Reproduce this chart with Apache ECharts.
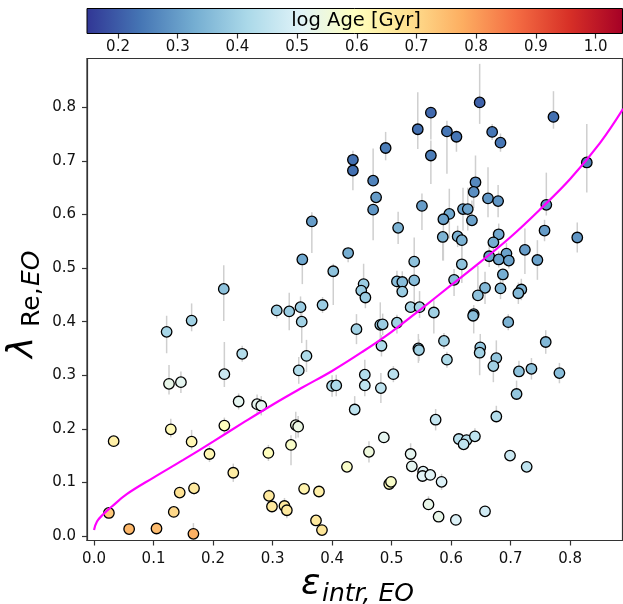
<!DOCTYPE html>
<html><head><meta charset="utf-8">
<script src="https://cdn.jsdelivr.net/npm/echarts@6/dist/echarts.min.js"></script>
<style>html,body{margin:0;padding:0;background:#fff}#c{width:623px;height:604px}</style>
</head><body><div id="c"></div>
<script>
// ---- data ----
const eps = [
0.648,0.566,0.772,0.544,0.593,0.609,0.669,0.683,0.490,0.435,0.435,0.566,0.469,0.474,0.469,0.828,0.641,0.638,0.662,0.679,
0.551,0.760,0.620,0.628,0.597,0.587,0.635,0.511,0.757,0.812,0.680,0.586,0.611,0.618,0.671,0.366,0.350,0.427,0.402,0.218,
0.724,0.693,0.664,0.680,0.697,0.745,0.538,0.618,0.687,0.509,0.518,0.538,0.605,0.453,0.449,0.518,0.456,0.657,0.683,0.718,
0.713,0.645,0.532,0.547,
0.571,0.638,0.637,0.696,0.441,0.481,0.485,0.509,0.483,0.545,0.546,0.588,0.593,0.649,0.648,0.676,0.671,0.759,0.714,0.735,
0.782,0.710,0.455,0.503,0.455,0.482,0.400,0.407,0.438,0.574,0.676,0.487,0.613,0.626,0.621,0.640,0.462,0.532,0.534,0.553,
0.552,0.565,0.584,0.425,0.496,0.499,0.699,0.727,0.562,0.579,0.608,0.657,
0.307,0.328,0.347,0.384,0.349,0.164,0.122,0.249,0.357,0.344,0.219,0.126,0.146,0.243,0.274,0.281,0.339,0.343,0.129,0.219,
0.033,0.164,0.331,0.194,0.293,0.234,0.144,0.168,0.134,0.025,0.059,0.105,0.167,0.294,0.299,0.320,0.324,0.353,0.378,0.373,
0.383
];
const lam = [
0.809,0.790,0.782,0.759,0.755,0.745,0.754,0.734,0.724,0.702,0.682,0.710,0.663,0.632,0.609,0.697,0.660,0.642,0.630,0.625,
0.616,0.618,0.610,0.610,0.601,0.591,0.589,0.575,0.570,0.557,0.563,0.558,0.559,0.552,0.548,0.587,0.516,0.528,0.494,0.461,
0.534,0.527,0.522,0.516,0.514,0.515,0.512,0.507,0.488,0.475,0.474,0.477,0.478,0.470,0.458,0.456,0.445,0.463,0.462,0.460,
0.453,0.449,0.427,0.427,
0.417,0.414,0.411,0.399,0.386,0.394,0.395,0.398,0.355,0.350,0.347,0.364,0.329,0.352,0.342,0.332,0.317,0.362,0.307,0.312,
0.304,0.265,0.301,0.302,0.281,0.276,0.280,0.281,0.236,0.217,0.223,0.184,0.181,0.179,0.171,0.186,0.157,0.153,0.130,0.120,
0.112,0.114,0.101,0.129,0.097,0.101,0.150,0.129,0.059,0.036,0.030,0.046,
0.421,0.419,0.427,0.431,0.400,0.402,0.381,0.340,0.336,0.309,0.302,0.284,0.287,0.251,0.246,0.243,0.207,0.204,0.199,0.206,
0.177,0.176,0.170,0.153,0.155,0.118,0.081,0.089,0.045,0.043,0.013,0.014,0.004,0.075,0.055,0.056,0.048,0.088,0.083,0.029,
0.011
];
const logAge = [
0.21,0.22,0.23,0.23,0.24,0.24,0.24,0.24,0.25,0.23,0.23,0.25,0.26,0.30,0.29,0.26,0.27,0.28,0.29,0.29,
0.30,0.29,0.31,0.31,0.32,0.31,0.31,0.34,0.30,0.29,0.32,0.34,0.34,0.34,0.33,0.30,0.32,0.33,0.37,0.37,
0.30,0.31,0.31,0.31,0.31,0.31,0.37,0.37,0.33,0.36,0.36,0.36,0.36,0.39,0.39,0.39,0.39,0.35,0.35,0.34,
0.35,0.37,0.41,0.41,
0.40,0.33,0.36,0.34,0.40,0.38,0.39,0.40,0.42,0.38,0.40,0.40,0.42,0.38,0.40,0.38,0.40,0.35,0.37,0.37,
0.36,0.38,0.43,0.44,0.45,0.45,0.42,0.42,0.45,0.46,0.43,0.52,0.44,0.44,0.45,0.45,0.55,0.52,0.52,0.51,
0.51,0.51,0.50,0.58,0.60,0.58,0.47,0.45,0.53,0.53,0.50,0.48,
0.39,0.39,0.39,0.39,0.40,0.40,0.41,0.43,0.42,0.43,0.47,0.53,0.52,0.52,0.52,0.52,0.54,0.54,0.61,0.60,
0.64,0.62,0.58,0.62,0.60,0.65,0.68,0.66,0.70,0.73,0.76,0.75,0.77,0.66,0.66,0.66,0.66,0.63,0.64,0.66,
0.67
];
const errLo = [
0.040,0.050,0.022,0.037,0.079,0.028,0.015,0.017,0.023,0.000,0.037,0.053,0.010,0.010,0.057,0.056,0.010,0.030,0.035,0.030,
0.045,0.020,0.040,0.040,0.046,0.077,0.010,0.030,0.020,0.028,0.020,0.044,0.020,0.043,0.020,0.059,0.046,0.017,0.063,0.060,
0.045,0.020,0.020,0.015,0.015,0.037,0.090,0.035,0.030,0.020,0.020,0.010,0.030,0.010,0.010,0.010,0.020,0.030,0.020,0.020,
0.020,0.010,0.010,0.020,
0.039,0.036,0.010,0.015,0.028,0.030,0.020,0.020,0.020,0.027,0.020,0.015,0.015,0.010,0.042,0.010,0.030,0.022,0.010,0.020,
0.019,0.010,0.028,0.015,0.020,0.028,0.020,0.020,0.010,0.020,0.010,0.010,0.010,0.010,0.010,0.010,0.020,0.010,0.010,0.010,
0.010,0.010,0.015,0.005,0.005,0.005,0.005,0.005,0.010,0.005,0.005,0.005,
0.015,0.035,0.020,0.015,0.040,0.020,0.040,0.015,0.030,0.025,0.024,0.020,0.020,0.015,0.018,0.018,0.025,0.020,0.015,0.015,
0.005,0.015,0.038,0.015,0.015,0.017,0.005,0.012,0.005,0.005,0.005,0.005,0.005,0.012,0.010,0.015,0.015,0.005,0.005,0.005,
0.005
];
const errHi = [
0.072,0.010,0.048,0.069,0.020,0.010,0.015,0.017,0.030,0.017,0.000,0.028,0.060,0.010,0.010,0.072,0.050,0.010,0.058,0.030,
0.023,0.060,0.040,0.040,0.047,0.010,0.037,0.030,0.020,0.028,0.020,0.010,0.020,0.010,0.020,0.017,0.000,0.005,0.014,0.044,
0.040,0.020,0.020,0.015,0.015,0.037,0.045,0.035,0.010,0.020,0.020,0.010,0.020,0.038,0.010,0.010,0.010,0.030,0.020,0.020,
0.020,0.055,0.010,0.030,
0.023,0.017,0.010,0.015,0.028,0.042,0.020,0.015,0.020,0.027,0.020,0.015,0.015,0.025,0.010,0.033,0.010,0.022,0.020,0.020,
0.019,0.025,0.028,0.015,0.020,0.028,0.020,0.020,0.025,0.020,0.020,0.010,0.010,0.010,0.010,0.015,0.020,0.020,0.010,0.010,
0.010,0.010,0.015,0.005,0.005,0.005,0.005,0.005,0.015,0.005,0.005,0.005,
0.010,0.035,0.020,0.015,0.020,0.032,0.030,0.015,0.030,0.025,0.060,0.035,0.020,0.015,0.018,0.018,0.025,0.020,0.020,0.015,
0.005,0.022,0.018,0.015,0.015,0.017,0.005,0.012,0.005,0.005,0.005,0.005,0.020,0.012,0.010,0.015,0.015,0.005,0.005,0.005,
0.005
];
// magenta model curve
const curveEps = [0.000,0.005,0.015,0.030,0.055,0.100,0.150,0.200,0.250,0.300,0.350,0.400,0.450,0.500,0.550,0.600,0.650,0.700,0.750,0.800,0.850,0.889];
const curveLam = [0.011,0.027,0.040,0.055,0.078,0.109,0.142,0.176,0.211,0.245,0.277,0.308,0.343,0.381,0.424,0.468,0.512,0.558,0.610,0.666,0.733,0.797];
// tick labels
const xTicks = [0.0,0.1,0.2,0.3,0.4,0.5,0.6,0.7,0.8];
const yTicks = [0.0,0.1,0.2,0.3,0.4,0.5,0.6,0.7,0.8];
const cbTicks = [0.2,0.3,0.4,0.5,0.6,0.7,0.8,0.9,1.0];
const cmap = ['#313695','#4575b4','#74add1','#abd9e9','#e0f3f8','#ffffbf','#fee090','#fdae61','#f46d43','#d73027','#a50026'];
const cbRange = [0.148, 1.045];

// ---- build ----
const FONT = 'DejaVu Sans';
const pts = eps.map((e,i)=>[e, lam[i], logAge[i]]);
const bars = eps.map((e,i)=>[e, lam[i]-errLo[i], lam[i]+errHi[i]]);
const curve = curveEps.map((e,i)=>[e, curveLam[i]]);
const fmt = v => Number(v).toFixed(1);

const chart = echarts.init(document.getElementById('c'), null, {renderer:'canvas'});
const tickStyle = {show:true, inside:false, length:5, lineStyle:{color:'#333', width:1.2}};
chart.setOption({
  animation:false,
  grid:[
    {left:87, top:58.5, width:535.5, height:482, show:true, borderColor:'#333', borderWidth:1.2, backgroundColor:'transparent'},
    {left:87, top:8.5, width:535.5, height:25}
  ],
  xAxis:[
    {type:'value', gridIndex:0, min:-0.0118, max:0.888, splitLine:{show:false},
      axisLine:{show:true, onZero:false, lineStyle:{color:'#333', width:1.2}},
      axisTick:Object.assign({}, tickStyle, {customValues:xTicks}),
      axisLabel:{customValues:xTicks, formatter:fmt, fontFamily:FONT, fontSize:15, color:'#111', margin:11}},
    {type:'value', gridIndex:1, min:cbRange[0], max:cbRange[1], splitLine:{show:false},
      axisLine:{show:false, onZero:false},
      axisTick:Object.assign({}, tickStyle, {customValues:cbTicks}),
      axisLabel:{customValues:cbTicks, formatter:fmt, fontFamily:FONT, fontSize:15, color:'#111', margin:6}}
  ],
  yAxis:[
    {type:'value', gridIndex:0, min:-0.0084, max:0.891, splitLine:{show:false},
      axisLine:{show:true, onZero:false, lineStyle:{color:'#333', width:1.2}},
      axisTick:Object.assign({}, tickStyle, {customValues:yTicks}),
      axisLabel:{customValues:yTicks, formatter:fmt, fontFamily:FONT, fontSize:15, color:'#111', margin:11}},
    {type:'value', gridIndex:1, min:0, max:1, show:false}
  ],
  visualMap:{type:'continuous', show:false, seriesIndex:1, dimension:2, min:cbRange[0], max:cbRange[1], inRange:{color:cmap}},
  series:[
    {type:'custom', xAxisIndex:0, yAxisIndex:0, data:bars, encode:{x:0, y:[1,2]}, z:1, silent:true,
      renderItem:function(params, api){
        const a = api.coord([api.value(0), api.value(1)]);
        const b = api.coord([api.value(0), api.value(2)]);
        return {type:'line', shape:{x1:a[0], y1:a[1], x2:b[0], y2:b[1]}, style:{stroke:'#cfcfcf', lineWidth:1.5}};
      }},
    {type:'scatter', xAxisIndex:0, yAxisIndex:0, data:pts, symbolSize:10.5, z:2,
      itemStyle:{borderColor:'#000', borderWidth:1.3, opacity:1}},
    {type:'line', xAxisIndex:0, yAxisIndex:0, data:curve, showSymbol:false, smooth:0.4, z:3,
      lineStyle:{color:'#ff00ff', width:2.2}},
    {type:'custom', xAxisIndex:1, yAxisIndex:1, data:[[cbRange[0], cbRange[1]]], encode:{x:[0,1]}, silent:true,
      renderItem:function(params, api){
        const a = api.coord([api.value(0), 0]);
        const b = api.coord([api.value(1), 1]);
        return {type:'rect', shape:{x:a[0], y:b[1], width:b[0]-a[0], height:a[1]-b[1]},
          style:{fill:{type:'linear', x:0, y:0, x2:1, y2:0, colorStops:cmap.map((c,i)=>({offset:i/(cmap.length-1), color:c}))},
                 stroke:'#000', lineWidth:1}};
      }}
  ],
  graphic:[
    {type:'text', x:356, y:21, z:100, style:{text:'log Age [Gyr]', font:'19.5px "DejaVu Sans"', fill:'#000',
      align:'center', verticalAlign:'middle', textAlign:'center', textVerticalAlign:'middle'}},
    {type:'text', x:301, y:585, z:100, style:{text:'ε', font:'italic 36px "DejaVu Sans"', fill:'#000',
      align:'left', verticalAlign:'middle', textAlign:'left', textVerticalAlign:'middle'}},
    {type:'text', x:322, y:594, z:100, style:{text:'intr, EO', font:'italic 25px "DejaVu Sans"', fill:'#000',
      align:'left', verticalAlign:'middle', textAlign:'left', textVerticalAlign:'middle'}},
    {type:'group', x:36, y:358, rotation:Math.PI/2, z:100, children:[
      {type:'text', x:0, y:-13, style:{text:'λ', font:'italic 36px "DejaVu Sans"', fill:'#000',
        align:'left', verticalAlign:'middle', textAlign:'left', textVerticalAlign:'middle'}},
      {type:'text', x:31, y:-4, style:{text:'Re,', font:'25px "DejaVu Sans"', fill:'#000',
        align:'left', verticalAlign:'middle', textAlign:'left', textVerticalAlign:'middle'}},
      {type:'text', x:72, y:-4, style:{text:'EO', font:'italic 25px "DejaVu Sans"', fill:'#000',
        align:'left', verticalAlign:'middle', textAlign:'left', textVerticalAlign:'middle'}}
    ]}
  ]
});
</script></body></html>
